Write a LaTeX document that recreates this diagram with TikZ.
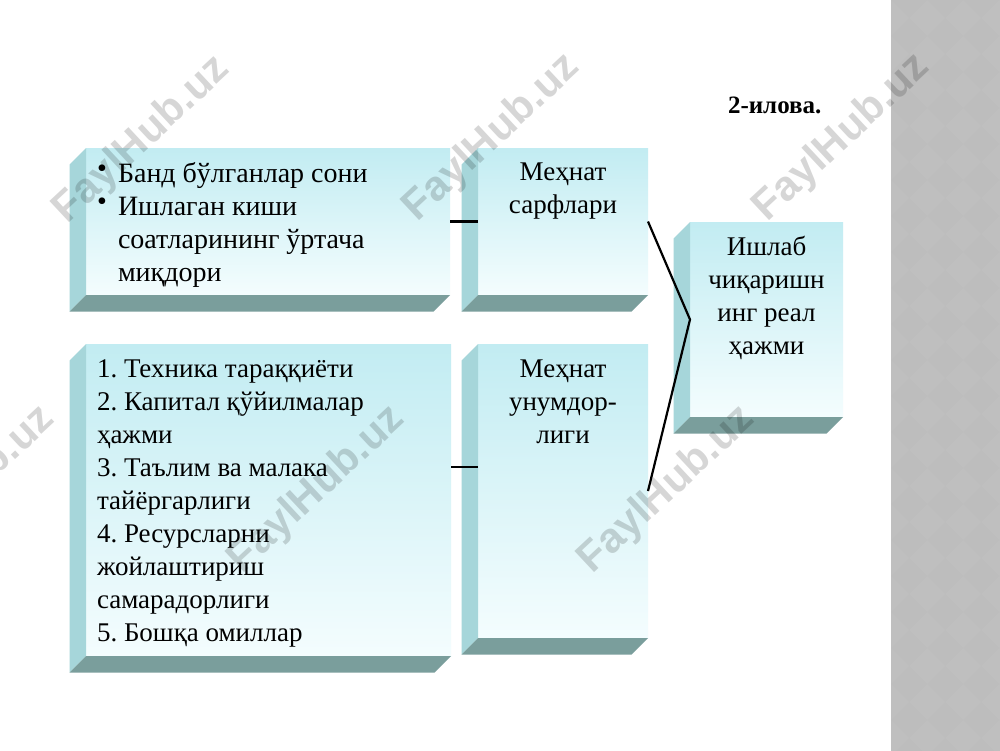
\documentclass[tikz,border=0pt]{standalone}
\usepackage{fontspec}
\setmainfont{Liberation Serif}
\newfontfamily\wmfont{Liberation Sans}
\usetikzlibrary{calc}
\definecolor{facetop}{HTML}{C2ECF2}
\definecolor{facebot}{HTML}{F4FDFE}
\definecolor{sideL}{HTML}{A6D6DA}
\definecolor{sideB}{HTML}{7A9E9C}
\definecolor{stripgray}{HTML}{BDBDBD}
\definecolor{stripdia}{HTML}{BFBFBF}
\newcommand\bodyfont{\fontsize{27}{33}\selectfont\frenchspacing}
\newcommand\bul{\makebox[21pt][l]{\raisebox{5pt}{\textbullet}}}
\tikzset{
  face/.style={draw=none, inner sep=0pt, outer sep=0pt, anchor=north west,
    top color=facetop, bottom color=facebot},
  txt/.style={inner sep=0pt, outer sep=0pt, text=black},
  link/.style={draw=black, line width=2.2pt},
  wm/.style={inner sep=0pt, text=black, text opacity=0.16, rotate=43,
    font=\wmfont\bfseries\fontsize{42}{42}\selectfont}
}
\newcommand\slabbox[5]{%
  \node[face, minimum width=#4pt, minimum height=#5pt] (#1) at (#2,#3) {};
  \fill[sideL] (#1.north west) -- (#1.south west) -- ++(-16.5,16.5)
     -- ($(#1.north west)+(-16.5,16.5)$) -- cycle;
  \fill[sideB] (#1.south west) -- (#1.south east) -- ++(-16.5,16.5)
     -- ($(#1.south west)+(-16.5,16.5)$) -- cycle;
}
\begin{document}
\begin{tikzpicture}[x=1pt,y=-1pt]
\useasboundingbox (0,0) rectangle (1000,750);
\fill[white] (0,0) rectangle (1000,750);
% right decorative strip
\begin{scope}
  \clip (891,0) rectangle (1000,750);
  \fill[stripgray] (891,-10) rectangle (1010,760);
  \foreach \i in {0,...,4}{
    \foreach \j in {0,...,22}{
      \fill[stripdia] ($(891,0)+(36*\i,36*\j)$) -- ++(18,18) -- ++(-18,18) -- ++(-18,-18) -- cycle;
    }
  }
\end{scope}

% boxes
\slabbox{f1}{86}{148}{364}{147}
\slabbox{f2}{478}{148}{170}{147}
\slabbox{f3}{86}{344}{365}{312}
\slabbox{f4}{478}{344}{170}{294}
\slabbox{f5}{690}{222}{153}{195}

% texts
\node[txt, anchor=base west] (t1) at (97,182) {\bodyfont\fontsize{28}{33}\selectfont
  \begin{tabular}[t]{@{}l@{}l@{}}
  \bul & Банд бўлганлар сони\\
  \bul & Ишлаган киши\\
       & соатларининг ўртача\\
       & миқдори
  \end{tabular}};
\node[txt, anchor=base] (t2) at (563,180) {\bodyfont
  \begin{tabular}[t]{@{}c@{}}Меҳнат\\ сарфлари\end{tabular}};
\node[txt, anchor=base west] (t3) at (97,377) {\bodyfont
  \begin{tabular}[t]{@{}l@{}}
  1. Техника тараққиёти\\
  2. Капитал қўйилмалар\\
  ҳажми\\
  3. Таълим ва малака\\
  тайёргарлиги\\
  4. Ресурсларни\\
  жойлаштириш\\
  самарадорлиги\\
  5. Бошқа омиллар
  \end{tabular}};
\node[txt, anchor=base] (t4) at (563,377) {\bodyfont
  \begin{tabular}[t]{@{}c@{}}Меҳнат\\ унумдор-\\ лиги\end{tabular}};
\node[txt, anchor=base] (t5) at (766.5,255) {\bodyfont
  \begin{tabular}[t]{@{}c@{}}Ишлаб\\ чиқаришн\\ инг реал\\ ҳажми\end{tabular}};
\node[txt, anchor=base west] (lbl) at (728,113) {\fontsize{25}{28}\selectfont\bfseries 2-илова.};

% connectors
\coordinate (j2) at (464,467);
\draw[link] (f1.east) -- (f2.west);
\draw[link] (f3.east |- j2) -- (f4.west |- j2);
\draw[link] (f2.east) -- (f5.west) -- (f4.east);

% watermarks
\foreach \x/\y [count=\k] in {142/140, 492/138, 842/138, -33/490, 317/490, 667/490}{
  \node[wm, name=wm\k] at (\x,\y) {FaylHub.uz};
}
\end{tikzpicture}
\end{document}
